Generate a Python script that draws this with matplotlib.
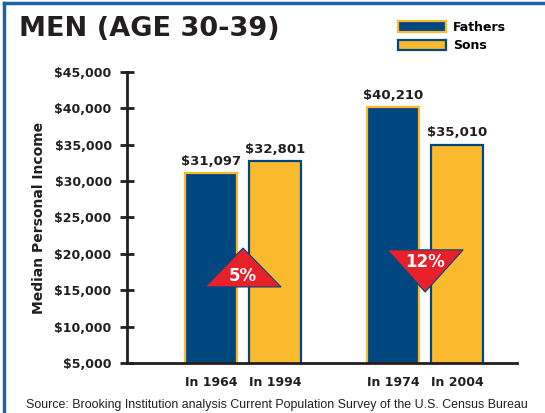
import matplotlib
matplotlib.use("Agg")
import matplotlib.pyplot as plt
from matplotlib.patches import Patch, Polygon
from matplotlib.lines import Line2D

# data
father_years = ["In 1964", "In 1974"]
son_years = ["In 1994", "In 2004"]
fathers = [31097, 40210]
sons = [32801, 35010]
changes = ["5%", "12%"]
yticks = [5000, 10000, 15000, 20000, 25000, 30000, 35000, 40000, 45000]

NAVY = "#00467f"
GOLD = "#fbb92e"
RED = "#e8202a"
INK = "#231f20"
FRAME = "#1c63a8"

fig = plt.figure(figsize=(5.45, 4.13), dpi=100)
ax = fig.add_axes([0.233, 0.121, 0.716, 0.705])

# layout: two pairs of bars
centers = [116, 298]
off = 32
width = 52
xf = [c - off for c in centers]
xs = [c + off for c in centers]

ax.bar(xf, fathers, width=width, color=NAVY, edgecolor=GOLD, linewidth=1.6, zorder=2)
ax.bar(xs, sons, width=width, color=GOLD, edgecolor=NAVY, linewidth=1.6, zorder=2)

for x, v in zip(xf + xs, fathers + sons):
    ax.text(x, v + 700, f"${v:,}", ha="center", va="bottom",
            fontsize=9.5, fontweight="bold", color=INK)

# change triangles between each pair
for c, f, s, lab in zip(centers, fathers, sons, changes):
    half = 38
    if s > f:
        pts = [(c - half, 15450), (c + half, 15450), (c, 20800)]
        ty = 16900
    else:
        pts = [(c - half, 20550), (c + half, 20550), (c, 14750)]
        ty = 18900
    ax.add_patch(Polygon(pts, closed=True, facecolor=RED, edgecolor=NAVY,
                         linewidth=0.8, zorder=4))
    ax.text(c, ty, lab, ha="center", va="center", color="white",
            fontsize=12, fontweight="bold", zorder=5)

ax.set_xlim(0, 390)
ax.set_ylim(5000, 45000)
ax.set_yticks(yticks)
ax.set_yticklabels([f"${t:,}" for t in yticks])
ax.set_xticks(xf + xs)
ax.set_xticklabels(father_years + son_years)

for sp in ["top", "right"]:
    ax.spines[sp].set_visible(False)
for sp in ["left", "bottom"]:
    ax.spines[sp].set_color(INK)
    ax.spines[sp].set_linewidth(2)
ax.tick_params(axis="y", direction="inout", length=10, width=2, color=INK,
               labelsize=9, pad=6)
ax.tick_params(axis="x", length=0, labelsize=9, pad=9)
for lbl in ax.get_yticklabels() + ax.get_xticklabels():
    lbl.set_fontweight("bold")
    lbl.set_color(INK)

ax.set_ylabel("Median Personal Income", fontsize=10, fontweight="bold",
              color=INK, labelpad=6)

fig.text(0.035, 0.93, "MEN (AGE 30-39)", fontsize=19.5, fontweight="heavy",
         color=INK, va="center", ha="left")

handles = [Patch(facecolor=NAVY, edgecolor=GOLD, linewidth=1.6),
           Patch(facecolor=GOLD, edgecolor=NAVY, linewidth=1.6)]
fig.legend(handles, ["Fathers", "Sons"], loc="upper left",
           bbox_to_anchor=(0.709, 0.977), frameon=False,
           handlelength=3.9, handleheight=0.95, handletextpad=0.5,
           labelspacing=0.45, prop={"weight": "bold", "size": 9})

fig.text(0.508, 0.004, "Source: Brooking Institution analysis Current Population "
         "Survey of the U.S. Census Bureau", fontsize=8.9, ha="center",
         va="bottom", color=INK, family="Liberation Sans")

# blue frame on top and left edges
fig.add_artist(Line2D([0.008, 1.0], [0.992, 0.992], color=FRAME, linewidth=2.5,
                      transform=fig.transFigure))
fig.add_artist(Line2D([0.008, 0.008], [0.0, 0.992], color=FRAME, linewidth=2.5,
                      transform=fig.transFigure))

fig.savefig("out.png", dpi=100)
